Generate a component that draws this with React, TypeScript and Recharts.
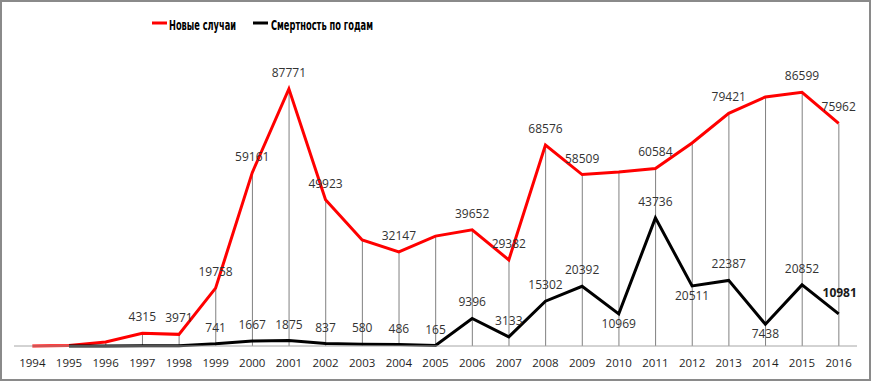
import { ComposedChart, Line, Bar, XAxis, YAxis, LabelList } from 'recharts';

const FONT = "'Open Sans', 'Noto Sans', sans-serif";
const LEGEND_FONT = "'DejaVu Sans Condensed', 'Liberation Sans Narrow', 'Open Sans', sans-serif";
const LABEL_COLOR = '#333333';
const DROP_COLOR = '#808080';
const AXIS_COLOR = '#a6a6a6';

const YEARS = [
  '1994', '1995', '1996', '1997', '1998', '1999', '2000', '2001', '2002', '2003', '2004', '2005',
  '2006', '2007', '2008', '2009', '2010', '2011', '2012', '2013', '2014', '2015', '2016',
];

// Новые случаи
const NEW_CASES = [
  0, 200, 1400, 4315, 3971, 19758, 59161, 87771, 49923, 36200, 32147, 37500,
  39652, 29382, 68576, 58509, 59400, 60584, 69300, 79421, 85000, 86599, 75962,
];

// Смертность по годам (no value for 1994)
const DEATHS = [
  null, 5, 20, 60, 110, 741, 1667, 1875, 837, 580, 486, 165,
  9396, 3133, 15302, 20392, 10969, 43736, 20511, 22387, 7438, 20852, 10981,
];

const CASES_LABELED = ['1997', '1998', '1999', '2000', '2001', '2002', '2004', '2006', '2007', '2008', '2009', '2011', '2013', '2015', '2016'];
const DEATHS_LABELED = YEARS.slice(5);
const DEATHS_BELOW = ['2010', '2012', '2014'];
const DEATHS_BOLD = ['2016'];

const data = YEARS.map((year, i) => ({
  year,
  cases: NEW_CASES[i],
  deaths: DEATHS[i],
  drop: Math.max(NEW_CASES[i], DEATHS[i] ?? 0),
}));

// eslint-disable-next-line @typescript-eslint/no-explicit-any
function CasesLabel({ x, y, index }: any) {
  const year = YEARS[index];
  if (!CASES_LABELED.includes(year)) return null;
  return (
    <text x={x} y={y - 12} textAnchor="middle" fontSize={12} fill={LABEL_COLOR} fontFamily={FONT}>
      {NEW_CASES[index]}
    </text>
  );
}

// eslint-disable-next-line @typescript-eslint/no-explicit-any
function DeathsLabel({ x, y, index }: any) {
  const year = YEARS[index];
  if (!DEATHS_LABELED.includes(year)) return null;
  const bold = DEATHS_BOLD.includes(year);
  const dy = DEATHS_BELOW.includes(year) ? 14 : bold ? -17 : -12;
  return (
    <text
      x={x + (bold ? 1 : 0)}
      y={y + dy}
      textAnchor="middle"
      fontSize={12}
      fontWeight={bold ? 'bold' : 'normal'}
      fill={bold ? '#1a1a1a' : LABEL_COLOR}
      fontFamily={FONT}
    >
      {DEATHS[index]}
    </text>
  );
}

export default function App() {
  return (
    <div style={{ position: 'absolute', left: 0, top: 0, width: 871, height: 381, background: '#fff' }}>
      <style>{'body{margin:0}'}</style>

      {/* legend */}
      <svg width={871} height={45} style={{ position: 'absolute', left: 0, top: 0 }}>
        <line x1={152} x2={167} y1={23} y2={23} stroke="#ff0000" strokeWidth={3} />
        <text x={169} y={29.5} fontSize={14.5} fontWeight="bold" fontFamily={LEGEND_FONT} textLength={67} lengthAdjust="spacingAndGlyphs">
          Новые случаи
        </text>
        <line x1={253} x2={268} y1={23} y2={23} stroke="#000" strokeWidth={3} />
        <text x={271} y={29.5} fontSize={14.5} fontWeight="bold" fontFamily={LEGEND_FONT} textLength={102} lengthAdjust="spacingAndGlyphs">
          Смертность по годам
        </text>
      </svg>

      <ComposedChart width={871} height={381} data={data} margin={{ top: 53, right: 14, bottom: 0, left: 14 }}>
        <XAxis
          dataKey="year"
          interval={0}
          height={35}
          tickLine={false}
          tickSize={0}
          tickMargin={13}
          axisLine={{ stroke: AXIS_COLOR }}
          tick={{ fill: '#1f1f1f', fontSize: 11.5, fontFamily: FONT }}
        />
        <YAxis hide domain={[0, 100000]} />
        <Bar dataKey="drop" barSize={1} fill={DROP_COLOR} isAnimationActive={false} />
        <Line
          type="linear"
          dataKey="cases"
          stroke="#ff0000"
          strokeWidth={3}
          dot={false}
          isAnimationActive={false}
        >
          <LabelList dataKey="cases" content={<CasesLabel />} />
        </Line>
        <Line
          type="linear"
          dataKey="deaths"
          stroke="#000000"
          strokeWidth={3}
          dot={false}
          isAnimationActive={false}
        >
          <LabelList dataKey="deaths" content={<DeathsLabel />} />
        </Line>
      </ComposedChart>

      <div
        style={{
          position: 'absolute', left: 0, top: 0, width: 871, height: 381,
          boxSizing: 'border-box', border: '2px solid #8a8a8a', pointerEvents: 'none',
        }}
      />
    </div>
  );
}
